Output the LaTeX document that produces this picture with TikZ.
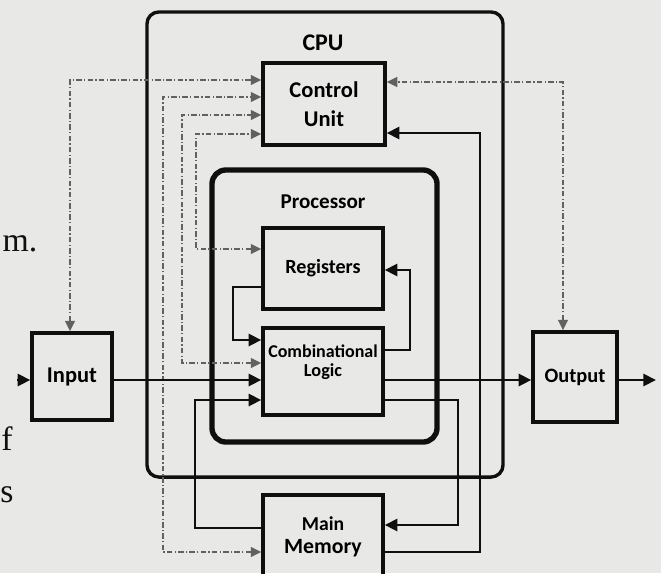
\documentclass[tikz,border=0pt]{standalone}
\usepackage{fontspec}
\setmainfont{Liberation Serif}
\setsansfont{Carlito}
\usetikzlibrary{arrows.meta, positioning}

\definecolor{paper}{RGB}{232,232,230}
\definecolor{ink}{RGB}{15,15,15}

\begin{document}
\begin{tikzpicture}[x=0.025cm, y=-0.025cm,
  unit/.style={draw=ink, line width=2.4pt, inner sep=0pt, align=center, font=\sffamily\bfseries},
  frame/.style={draw=ink, line width=2.4pt, rounded corners=0.3cm},
  bus/.style={draw=ink, line width=2.1pt, -{Triangle[length=9pt, width=8.5pt]}},
  ctrl/.style={draw=black!62, line width=1.1pt, dash pattern=on 4pt off 1.5pt on 1pt off 1.5pt,
    {Triangle[length=7.5pt, width=7pt]}-{Triangle[length=7.5pt, width=7pt]}},
  page/.style={font=\fontsize{24}{26}\selectfont, text=ink, inner sep=0pt},
]

\clip (0,0) rectangle (661,573);
\fill[paper] (0,0) rectangle (661,573);

% book text around the figure
\node[page] (txtm) at (20,244) {m.};
\node[page] (txtf) at (7,439) {f};
\node[page] (txts) at (7,495) {s};

% CPU and processor frames
\node[frame, minimum width=8.9cm, minimum height=11.625cm] (cpu) at (325,244.5) {};
\node[font=\sffamily\bfseries\fontsize{17}{19}\selectfont] (cpulbl) at (323,43) {CPU};
\node[frame, line width=3.8pt, rounded corners=0.35cm, minimum width=5.625cm, minimum height=6.8cm] (proc) at (324.5,306) {};
\node[font=\sffamily\bfseries\fontsize{15}{17}\selectfont] (proclbl) at (323,202) {Processor};

% units
\node[unit, minimum width=3.05cm, minimum height=2.05cm, font=\sffamily\bfseries\fontsize{16}{20.5}\selectfont] (cu) at (324,104) {Control\\Unit};
\node[unit, minimum width=3cm, minimum height=2.025cm, font=\sffamily\bfseries\fontsize{14.3}{16}\selectfont] (reg) at (323,268.5) {Registers};
\node[unit, minimum width=3cm, minimum height=2.175cm] (comb) at (323,371.5) {};
\node[align=center, font=\sffamily\bfseries\fontsize{12.8}{13.5}\selectfont] (combtxt) at (323,362) {Combinational\\{\fontsize{13}{13.5}\selectfont Logic}};
\node[unit, minimum width=2cm, minimum height=2.175cm, font=\sffamily\bfseries\fontsize{16}{18}\selectfont] (input) at (72,376.5) {Input};
\node[unit, minimum width=2.1cm, minimum height=2.25cm, font=\sffamily\bfseries\fontsize{14.5}{16}\selectfont] (out) at (575,377) {Output};
\node[unit, minimum width=3cm, minimum height=2.075cm] (mm) at (323,536.5) {};
\node[align=center, font=\sffamily\bfseries\fontsize{15.5}{16.5}\selectfont] (mmtxt) at (323,537) {{\fontsize{14}{15}\selectfont Main}\\Memory};

% control signals (dashed, both ways)
\coordinate (dA) at (70,80);
\coordinate (dB) at (163,97);
\coordinate (dC) at (182,115);
\coordinate (dD) at (196,134);
\coordinate (dE) at (563,82);
\coordinate (mB) at (163,552);
\coordinate (mC) at (182,363);
\coordinate (mD) at (196,249);

\draw[ctrl] (input.north -| dA) -- (dA) -- (cu.west |- dA);
\draw[ctrl] (mm.west |- mB) -- (mB) -- (dB) -- (cu.west |- dB);
\draw[ctrl] (comb.west |- mC) -- (mC) -- (dC) -- (cu.west |- dC);
\draw[ctrl] (reg.west |- mD) -- (mD) -- (dD) -- (cu.west |- dD);
\draw[ctrl] (out.north -| dE) -- (dE) -- (cu.east |- dE);

% data paths
\coordinate (r1) at (480,552);
\coordinate (r1t) at (480,133);
\draw[bus] (mm.east |- r1) -- (r1) -- (r1t) -- (cu.east |- r1t);

\coordinate (r2) at (410,350);
\coordinate (r2t) at (410,270);
\draw[bus] (comb.east |- r2) -- (r2) -- (r2t) -- (reg.east |- r2t);

\coordinate (l1) at (233,287);
\coordinate (l1b) at (233,340);
\draw[bus] (reg.west |- l1) -- (l1) -- (l1b) -- (comb.west |- l1b);

\coordinate (io) at (0,380);
\coordinate (inl) at (17,380);
\coordinate (outr) at (656,380);
\draw[bus] (inl) -- (input.west |- inl);
\draw[bus] (input.east |- io) -- (comb.west |- io);
\draw[bus] (comb.east |- io) -- (out.west |- io);
\draw[bus] (out.east |- outr) -- (outr);

\coordinate (r3) at (458,400);
\coordinate (r3b) at (458,525);
\draw[bus] (comb.east |- r3) -- (r3) -- (r3b) -- (mm.east |- r3b);

\coordinate (l2) at (195,528);
\coordinate (l2t) at (195,400);
\draw[bus] (mm.west |- l2) -- (l2) -- (l2t) -- (comb.west |- l2t);

\end{tikzpicture}
\end{document}
